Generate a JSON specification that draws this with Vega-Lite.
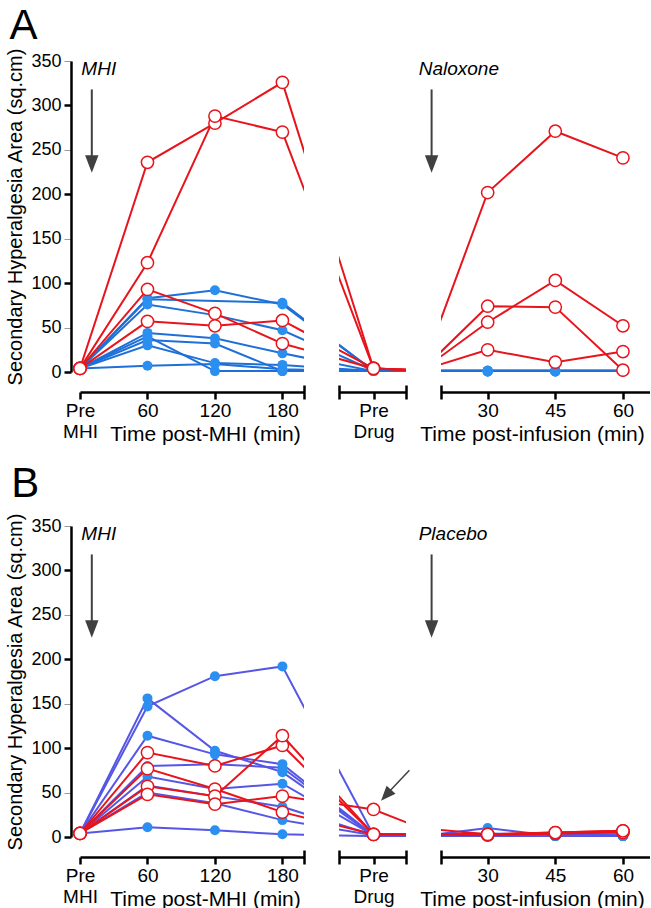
{
"$schema": "https://vega.github.io/schema/vega-lite/v6.json",
"padding": {"left": 5, "top": 4, "right": 0, "bottom": 0},
"bounds": "flush",
"columns": 3,
"spacing": {"row": 154, "column": 35},
"config": {"view": {"stroke": null}, "font": "Liberation Sans", "axis": {"labelFont": "Liberation Sans", "titleFont": "Liberation Sans", "labelColor": "black", "titleColor": "black", "domainColor": "black", "tickColor": "black", "grid": false}, "text": {"font": "Liberation Sans"}},
"datasets": {
"A": [
{"s":"ar1","g":"r","x":0,"v":4},{"s":"ar1","g":"r","x":1,"v":236},{"s":"ar1","g":"r","x":2,"v":280},{"s":"ar1","g":"r","x":3,"v":326},{"s":"ar1","g":"r","x":4.33,"v":4},{"s":"ar1","g":"r","x":5.03,"v":2},{"s":"ar1","g":"r","x":6,"v":202},{"s":"ar1","g":"r","x":7,"v":271},{"s":"ar1","g":"r","x":8,"v":241},
{"s":"ar2","g":"r","x":0,"v":4},{"s":"ar2","g":"r","x":1,"v":123},{"s":"ar2","g":"r","x":2,"v":288},{"s":"ar2","g":"r","x":3,"v":270},{"s":"ar2","g":"r","x":4.33,"v":4},{"s":"ar2","g":"r","x":5.03,"v":2},{"s":"ar2","g":"r","x":6,"v":56},{"s":"ar2","g":"r","x":7,"v":103},{"s":"ar2","g":"r","x":8,"v":52},
{"s":"ar3","g":"r","x":0,"v":4},{"s":"ar3","g":"r","x":1,"v":93},{"s":"ar3","g":"r","x":2,"v":66},{"s":"ar3","g":"r","x":3,"v":32},{"s":"ar3","g":"r","x":4.33,"v":4},{"s":"ar3","g":"r","x":5.03,"v":2},{"s":"ar3","g":"r","x":6,"v":74},{"s":"ar3","g":"r","x":7,"v":73},{"s":"ar3","g":"r","x":8,"v":2},
{"s":"ar4","g":"r","x":0,"v":4},{"s":"ar4","g":"r","x":1,"v":57},{"s":"ar4","g":"r","x":2,"v":52},{"s":"ar4","g":"r","x":3,"v":58},{"s":"ar4","g":"r","x":4.33,"v":4},{"s":"ar4","g":"r","x":5.03,"v":2},{"s":"ar4","g":"r","x":6,"v":25},{"s":"ar4","g":"r","x":7,"v":11},{"s":"ar4","g":"r","x":8,"v":23},
{"s":"ab1","g":"b","x":0,"v":4},{"s":"ab1","g":"b","x":1,"v":83},{"s":"ab1","g":"b","x":2,"v":92},{"s":"ab1","g":"b","x":3,"v":76},{"s":"ab1","g":"b","x":4.33,"v":1.5},{"s":"ab1","g":"b","x":5.03,"v":1.5},{"s":"ab1","g":"b","x":6,"v":1.5},{"s":"ab1","g":"b","x":7,"v":1.5},{"s":"ab1","g":"b","x":8,"v":1.5},
{"s":"ab2","g":"b","x":0,"v":4},{"s":"ab2","g":"b","x":1,"v":82},{"s":"ab2","g":"b","x":3,"v":78},{"s":"ab2","g":"b","x":4.33,"v":1},{"s":"ab2","g":"b","x":5.03,"v":0.7},{"s":"ab2","g":"b","x":6,"v":0.7},{"s":"ab2","g":"b","x":7,"v":0.7},{"s":"ab2","g":"b","x":8,"v":0.7},
{"s":"ab3","g":"b","x":0,"v":4},{"s":"ab3","g":"b","x":1,"v":76},{"s":"ab3","g":"b","x":2,"v":64},{"s":"ab3","g":"b","x":3,"v":47},{"s":"ab3","g":"b","x":4.33,"v":1.5},{"s":"ab3","g":"b","x":5.03,"v":1.5},{"s":"ab3","g":"b","x":6,"v":1.5},{"s":"ab3","g":"b","x":7,"v":1.5},{"s":"ab3","g":"b","x":8,"v":1.5},
{"s":"ab4","g":"b","x":0,"v":4},{"s":"ab4","g":"b","x":1,"v":44},{"s":"ab4","g":"b","x":2,"v":38},{"s":"ab4","g":"b","x":3,"v":21},{"s":"ab4","g":"b","x":4.33,"v":1},{"s":"ab4","g":"b","x":5.03,"v":0.7},{"s":"ab4","g":"b","x":6,"v":0.7},{"s":"ab4","g":"b","x":7,"v":0.7},{"s":"ab4","g":"b","x":8,"v":0.7},
{"s":"ab5","g":"b","x":0,"v":4},{"s":"ab5","g":"b","x":1,"v":40},{"s":"ab5","g":"b","x":2,"v":1},{"s":"ab5","g":"b","x":3,"v":1},{"s":"ab5","g":"b","x":4.33,"v":1},{"s":"ab5","g":"b","x":5.03,"v":1.5},{"s":"ab5","g":"b","x":6,"v":1.5},{"s":"ab5","g":"b","x":7,"v":1.5},{"s":"ab5","g":"b","x":8,"v":1.5},
{"s":"ab6","g":"b","x":0,"v":4},{"s":"ab6","g":"b","x":1,"v":36},{"s":"ab6","g":"b","x":2,"v":32},{"s":"ab6","g":"b","x":3,"v":1},{"s":"ab6","g":"b","x":4.33,"v":1},{"s":"ab6","g":"b","x":5.03,"v":0.7},{"s":"ab6","g":"b","x":6,"v":0.7},{"s":"ab6","g":"b","x":7,"v":0.7},{"s":"ab6","g":"b","x":8,"v":0.7},
{"s":"ab7","g":"b","x":0,"v":4},{"s":"ab7","g":"b","x":1,"v":30},{"s":"ab7","g":"b","x":2,"v":10},{"s":"ab7","g":"b","x":3,"v":8},{"s":"ab7","g":"b","x":4.33,"v":1},{"s":"ab7","g":"b","x":5.03,"v":1.5},{"s":"ab7","g":"b","x":6,"v":1.5},{"s":"ab7","g":"b","x":7,"v":1.5},{"s":"ab7","g":"b","x":8,"v":1.5},
{"s":"ab8","g":"b","x":0,"v":4},{"s":"ab8","g":"b","x":1,"v":7},{"s":"ab8","g":"b","x":2,"v":9},{"s":"ab8","g":"b","x":3,"v":3},{"s":"ab8","g":"b","x":4.33,"v":1},{"s":"ab8","g":"b","x":5.03,"v":0.7},{"s":"ab8","g":"b","x":6,"v":0.7},{"s":"ab8","g":"b","x":7,"v":0.7},{"s":"ab8","g":"b","x":8,"v":0.7}
],
"B": [
{"s":"br1","g":"r","x":0,"v":4},{"s":"br1","g":"r","x":1,"v":95},{"s":"br1","g":"r","x":2,"v":80},{"s":"br1","g":"r","x":3,"v":103},{"s":"br1","g":"r","x":4.33,"v":3},{"s":"br1","g":"r","x":5.03,"v":3},{"s":"br1","g":"r","x":6,"v":3},{"s":"br1","g":"r","x":7,"v":5},{"s":"br1","g":"r","x":8,"v":7},
{"s":"br2","g":"r","x":0,"v":4},{"s":"br2","g":"r","x":1,"v":77},{"s":"br2","g":"r","x":2,"v":54},{"s":"br2","g":"r","x":3,"v":28},{"s":"br2","g":"r","x":4.33,"v":3},{"s":"br2","g":"r","x":5.03,"v":3},{"s":"br2","g":"r","x":6,"v":2},{"s":"br2","g":"r","x":7,"v":4},{"s":"br2","g":"r","x":8,"v":6},
{"s":"br3","g":"r","x":0,"v":4},{"s":"br3","g":"r","x":1,"v":57},{"s":"br3","g":"r","x":2,"v":46},{"s":"br3","g":"r","x":3,"v":114},{"s":"br3","g":"r","x":4.33,"v":3},{"s":"br3","g":"r","x":5.03,"v":3},{"s":"br3","g":"r","x":6,"v":3},{"s":"br3","g":"r","x":7,"v":4},{"s":"br3","g":"r","x":8,"v":5},
{"s":"br4","g":"r","x":0,"v":4},{"s":"br4","g":"r","x":1,"v":48},{"s":"br4","g":"r","x":2,"v":37},{"s":"br4","g":"r","x":3,"v":46},{"s":"br4","g":"r","x":4.33,"v":31},{"s":"br4","g":"r","x":5.03,"v":10},{"s":"br4","g":"r","x":6,"v":3},{"s":"br4","g":"r","x":7,"v":5},{"s":"br4","g":"r","x":8,"v":7},
{"s":"bb1","g":"b","x":0,"v":4},{"s":"bb1","g":"b","x":1,"v":147},{"s":"bb1","g":"b","x":2,"v":181},{"s":"bb1","g":"b","x":3,"v":192},{"s":"bb1","g":"b","x":4.33,"v":2},{"s":"bb1","g":"b","x":5.03,"v":1},{"s":"bb1","g":"b","x":6,"v":4},{"s":"bb1","g":"b","x":7,"v":2},{"s":"bb1","g":"b","x":8,"v":3},
{"s":"bb2","g":"b","x":0,"v":4},{"s":"bb2","g":"b","x":1,"v":156},{"s":"bb2","g":"b","x":2,"v":97},{"s":"bb2","g":"b","x":3,"v":73},{"s":"bb2","g":"b","x":4.33,"v":2},{"s":"bb2","g":"b","x":5.03,"v":1},{"s":"bb2","g":"b","x":6,"v":10},{"s":"bb2","g":"b","x":7,"v":1},{"s":"bb2","g":"b","x":8,"v":1},
{"s":"bb3","g":"b","x":0,"v":4},{"s":"bb3","g":"b","x":1,"v":114},{"s":"bb3","g":"b","x":2,"v":93},{"s":"bb3","g":"b","x":3,"v":82},{"s":"bb3","g":"b","x":4.33,"v":2},{"s":"bb3","g":"b","x":5.03,"v":1},{"s":"bb3","g":"b","x":6,"v":3},{"s":"bb3","g":"b","x":7,"v":1},{"s":"bb3","g":"b","x":8,"v":1},
{"s":"bb4","g":"b","x":0,"v":4},{"s":"bb4","g":"b","x":1,"v":80},{"s":"bb4","g":"b","x":2,"v":82},{"s":"bb4","g":"b","x":3,"v":78},{"s":"bb4","g":"b","x":4.33,"v":2},{"s":"bb4","g":"b","x":5.03,"v":1},{"s":"bb4","g":"b","x":6,"v":2},{"s":"bb4","g":"b","x":7,"v":1},{"s":"bb4","g":"b","x":8,"v":1},
{"s":"bb5","g":"b","x":0,"v":4},{"s":"bb5","g":"b","x":1,"v":68},{"s":"bb5","g":"b","x":2,"v":54},{"s":"bb5","g":"b","x":3,"v":60},{"s":"bb5","g":"b","x":4.33,"v":2},{"s":"bb5","g":"b","x":5.03,"v":1},{"s":"bb5","g":"b","x":6,"v":2},{"s":"bb5","g":"b","x":7,"v":1},{"s":"bb5","g":"b","x":8,"v":1},
{"s":"bb6","g":"b","x":0,"v":4},{"s":"bb6","g":"b","x":1,"v":58},{"s":"bb6","g":"b","x":2,"v":46},{"s":"bb6","g":"b","x":3,"v":34},{"s":"bb6","g":"b","x":4.33,"v":2},{"s":"bb6","g":"b","x":5.03,"v":1},{"s":"bb6","g":"b","x":6,"v":1},{"s":"bb6","g":"b","x":7,"v":1},{"s":"bb6","g":"b","x":8,"v":1},
{"s":"bb7","g":"b","x":0,"v":4},{"s":"bb7","g":"b","x":1,"v":50},{"s":"bb7","g":"b","x":2,"v":38},{"s":"bb7","g":"b","x":3,"v":19},{"s":"bb7","g":"b","x":4.33,"v":2},{"s":"bb7","g":"b","x":5.03,"v":1},{"s":"bb7","g":"b","x":6,"v":1},{"s":"bb7","g":"b","x":7,"v":1},{"s":"bb7","g":"b","x":8,"v":1},
{"s":"bb8","g":"b","x":0,"v":4},{"s":"bb8","g":"b","x":1,"v":11},{"s":"bb8","g":"b","x":2,"v":7.5},{"s":"bb8","g":"b","x":3,"v":3},{"s":"bb8","g":"b","x":4.33,"v":1},{"s":"bb8","g":"b","x":5.03,"v":1},{"s":"bb8","g":"b","x":6,"v":1},{"s":"bb8","g":"b","x":7,"v":1},{"s":"bb8","g":"b","x":8,"v":1}
]
},
"concat": [
{
"width": 224, "height": 311,
"resolve": {"axis": {"x": "independent", "y": "independent"}},
"layer": [
{"data": {"name": "A"}, "transform": [{"filter": "datum.g == 'b'"}], "mark": {"type": "line", "clip": true, "strokeWidth": 2, "color": "#1e70d8"},
"encoding": {"detail": {"field": "s"},
"x": {"field": "x", "type": "quantitative", "scale": {"domain": [0, 3.32], "nice": false, "zero": false}, "axis": {"values": [0,1,2,3], "labelExpr": "datum.value == 0 ? ['Pre','MHI'] : datum.value == 1 ? '60' : datum.value == 2 ? '120' : '180'", "offset": 20, "tickSize": 7, "tickWidth": 2.5, "domainWidth": 2.5, "labelFontSize": 19, "labelPadding": 2, "labelLineHeight": 21, "labelFlush": false, "labelOverlap": false, "title": "Time post-MHI (min)", "titleFontSize": 21, "titleFontWeight": "normal", "titleX": 125, "titleY": 48, "titleBaseline": "alphabetic", "titleAlign": "center"}},
"y": {"field": "v", "type": "quantitative", "scale": {"domain": [0, 350], "nice": false, "zero": false}, "axis": {"values": [0,50,100,150,200,250,300,350], "offset": 9, "domainWidth": 2.5, "tickColor": {"condition": {"test": "datum.value % 100 == 0", "value": "black"}, "value": "#999999"}, "tickWidth": {"condition": {"test": "datum.value % 100 == 0", "value": 2.5}, "value": 1}, "tickSize": 7, "labelFontSize": 18, "labelPadding": 3, "labelFlush": false, "labelOverlap": false, "title": "Secondary Hyperalgesia Area (sq.cm)", "titleFontSize": 20, "titleFontWeight": "normal", "titlePadding": 5}}}},
{"data": {"name": "A"}, "transform": [{"filter": "datum.g == 'b'"}, {"filter": {"field": "x", "range": [0, 3.32]}}], "mark": {"type": "circle", "size": 100, "color": "#2b8ff0", "opacity": 1},
"encoding": {"x": {"field": "x", "type": "quantitative", "scale": {"domain": [0, 3.32], "nice": false, "zero": false}, "axis": null}, "y": {"field": "v", "type": "quantitative", "scale": {"domain": [0, 350], "nice": false, "zero": false}, "axis": null}}},
{"data": {"name": "A"}, "transform": [{"filter": "datum.g == 'r'"}], "mark": {"type": "line", "clip": true, "strokeWidth": 2, "color": "#e8141b"},
"encoding": {"detail": {"field": "s"}, "x": {"field": "x", "type": "quantitative", "scale": {"domain": [0, 3.32], "nice": false, "zero": false}, "axis": null}, "y": {"field": "v", "type": "quantitative", "scale": {"domain": [0, 350], "nice": false, "zero": false}, "axis": null}}},
{"data": {"name": "A"}, "transform": [{"filter": "datum.g == 'r'"}, {"filter": {"field": "x", "range": [0, 3.32]}}], "mark": {"type": "point", "shape": "circle", "size": 150, "filled": true, "fill": "white", "stroke": "#e8141b", "strokeWidth": 1.5, "opacity": 1},
"encoding": {"x": {"field": "x", "type": "quantitative", "scale": {"domain": [0, 3.32], "nice": false, "zero": false}, "axis": null}, "y": {"field": "v", "type": "quantitative", "scale": {"domain": [0, 350], "nice": false, "zero": false}, "axis": null}}},
{"data": {"values": [{}]}, "mark": {"type": "point", "opacity": 0}, "encoding": {"x": {"datum": 1, "type": "quantitative", "scale": {"domain": [0, 3.32], "nice": false, "zero": false}, "axis": {"orient": "bottom", "values": [3.32], "labels": false, "domain": false, "tickSize": 14, "tickWidth": 2.5, "offset": 13, "title": null}}, "y": {"datum": 100, "type": "quantitative", "axis": null}}},
{"data": {"values": [{}]}, "mark": {"type": "text", "text": "MHI", "fontSize": 19, "fontStyle": "italic", "align": "left", "baseline": "alphabetic"}, "encoding": {"x": {"datum": 0.02, "type": "quantitative", "axis": null}, "y": {"datum": 334, "type": "quantitative", "axis": null}}},
{"data": {"values": [{}]}, "mark": {"type": "rule", "strokeWidth": 2, "color": "#404040"}, "encoding": {"x": {"datum": 0.175, "type": "quantitative", "axis": null}, "y": {"datum": 318, "type": "quantitative", "axis": null}, "y2": {"datum": 238}}},
{"data": {"values": [{}]}, "mark": {"type": "point", "shape": "M-1,-1.3L1,-1.3L0,1.3Z", "size": 180, "filled": true, "color": "#404040", "opacity": 1}, "encoding": {"x": {"datum": 0.175, "type": "quantitative", "axis": null}, "y": {"datum": 234, "type": "quantitative", "axis": null}}},
{"data": {"values": [{}]}, "mark": {"type": "text", "text": "A", "fontSize": 42, "align": "left", "baseline": "alphabetic"}, "encoding": {"x": {"datum": -1.046, "type": "quantitative", "axis": null}, "y": {"datum": 375.3, "type": "quantitative", "axis": null}}}
]
},
{
"width": 67, "height": 311,
"resolve": {"axis": {"x": "independent", "y": "independent"}},
"layer": [
{"data": {"name": "A"}, "transform": [{"filter": "datum.g == 'b'"}], "mark": {"type": "line", "clip": true, "strokeWidth": 2, "color": "#1e70d8"},
"encoding": {"detail": {"field": "s"},
"x": {"field": "x", "type": "quantitative", "scale": {"domain": [3.82, 4.81], "nice": false, "zero": false}, "axis": {"values": [4.33], "labelExpr": "['Pre','Drug']", "offset": 20, "tickSize": 7, "tickWidth": 2.5, "domainWidth": 2.5, "labelFontSize": 19, "labelPadding": 2, "labelLineHeight": 21, "labelFlush": false, "labelOverlap": false, "title": null}},
"y": {"field": "v", "type": "quantitative", "scale": {"domain": [0, 350], "nice": false, "zero": false}, "axis": null}}},
{"data": {"name": "A"}, "transform": [{"filter": "datum.g == 'b'"}, {"filter": {"field": "x", "range": [3.82, 4.81]}}], "mark": {"type": "circle", "size": 100, "color": "#2b8ff0", "opacity": 1},
"encoding": {"x": {"field": "x", "type": "quantitative", "scale": {"domain": [3.82, 4.81], "nice": false, "zero": false}, "axis": null}, "y": {"field": "v", "type": "quantitative", "scale": {"domain": [0, 350], "nice": false, "zero": false}, "axis": null}}},
{"data": {"name": "A"}, "transform": [{"filter": "datum.g == 'r'"}], "mark": {"type": "line", "clip": true, "strokeWidth": 2, "color": "#e8141b"},
"encoding": {"detail": {"field": "s"}, "x": {"field": "x", "type": "quantitative", "scale": {"domain": [3.82, 4.81], "nice": false, "zero": false}, "axis": null}, "y": {"field": "v", "type": "quantitative", "scale": {"domain": [0, 350], "nice": false, "zero": false}, "axis": null}}},
{"data": {"name": "A"}, "transform": [{"filter": "datum.g == 'r'"}, {"filter": {"field": "x", "range": [3.82, 4.81]}}], "mark": {"type": "point", "shape": "circle", "size": 150, "filled": true, "fill": "white", "stroke": "#e8141b", "strokeWidth": 1.5, "opacity": 1},
"encoding": {"x": {"field": "x", "type": "quantitative", "scale": {"domain": [3.82, 4.81], "nice": false, "zero": false}, "axis": null}, "y": {"field": "v", "type": "quantitative", "scale": {"domain": [0, 350], "nice": false, "zero": false}, "axis": null}}},
{"data": {"values": [{}]}, "mark": {"type": "point", "opacity": 0}, "encoding": {"x": {"datum": 4.33, "type": "quantitative", "scale": {"domain": [3.82, 4.81], "nice": false, "zero": false}, "axis": {"orient": "bottom", "values": [3.82, 4.81], "labels": false, "domain": false, "tickSize": 14, "tickWidth": 2.5, "offset": 13, "title": null}}, "y": {"datum": 100, "type": "quantitative", "axis": null}}}
]
},
{
"width": 209, "height": 311,
"resolve": {"axis": {"x": "independent", "y": "independent"}},
"layer": [
{"data": {"name": "A"}, "transform": [{"filter": "datum.g == 'b'"}], "mark": {"type": "line", "clip": true, "strokeWidth": 2, "color": "#1e70d8"},
"encoding": {"detail": {"field": "s"},
"x": {"field": "x", "type": "quantitative", "scale": {"domain": [5.31, 8.4], "nice": false, "zero": false}, "axis": {"values": [6,7,8], "labelExpr": "datum.value == 6 ? '30' : datum.value == 7 ? '45' : '60'", "offset": 20, "tickSize": 7, "tickWidth": 2.5, "domainWidth": 2.5, "labelFontSize": 19, "labelPadding": 2, "labelFlush": false, "labelOverlap": false, "title": "Time post-infusion (min)", "titleFontSize": 21, "titleFontWeight": "normal", "titleX": 91, "titleY": 48, "titleBaseline": "alphabetic", "titleAlign": "center"}},
"y": {"field": "v", "type": "quantitative", "scale": {"domain": [0, 350], "nice": false, "zero": false}, "axis": null}}},
{"data": {"name": "A"}, "transform": [{"filter": "datum.g == 'b'"}, {"filter": {"field": "x", "range": [5.31, 8.4]}}], "mark": {"type": "circle", "size": 100, "color": "#2b8ff0", "opacity": 1},
"encoding": {"x": {"field": "x", "type": "quantitative", "scale": {"domain": [5.31, 8.4], "nice": false, "zero": false}, "axis": null}, "y": {"field": "v", "type": "quantitative", "scale": {"domain": [0, 350], "nice": false, "zero": false}, "axis": null}}},
{"data": {"name": "A"}, "transform": [{"filter": "datum.g == 'r'"}], "mark": {"type": "line", "clip": true, "strokeWidth": 2, "color": "#e8141b"},
"encoding": {"detail": {"field": "s"}, "x": {"field": "x", "type": "quantitative", "scale": {"domain": [5.31, 8.4], "nice": false, "zero": false}, "axis": null}, "y": {"field": "v", "type": "quantitative", "scale": {"domain": [0, 350], "nice": false, "zero": false}, "axis": null}}},
{"data": {"name": "A"}, "transform": [{"filter": "datum.g == 'r'"}, {"filter": {"field": "x", "range": [5.31, 8.4]}}], "mark": {"type": "point", "shape": "circle", "size": 150, "filled": true, "fill": "white", "stroke": "#e8141b", "strokeWidth": 1.5, "opacity": 1},
"encoding": {"x": {"field": "x", "type": "quantitative", "scale": {"domain": [5.31, 8.4], "nice": false, "zero": false}, "axis": null}, "y": {"field": "v", "type": "quantitative", "scale": {"domain": [0, 350], "nice": false, "zero": false}, "axis": null}}},
{"data": {"values": [{}]}, "mark": {"type": "point", "opacity": 0}, "encoding": {"x": {"datum": 6, "type": "quantitative", "scale": {"domain": [5.31, 8.4], "nice": false, "zero": false}, "axis": {"orient": "bottom", "values": [5.31], "labels": false, "domain": false, "tickSize": 14, "tickWidth": 2.5, "offset": 13, "title": null}}, "y": {"datum": 100, "type": "quantitative", "axis": null}}},
{"data": {"values": [{}]}, "mark": {"type": "text", "text": "Naloxone", "fontSize": 19, "fontStyle": "italic", "align": "left", "baseline": "alphabetic"}, "encoding": {"x": {"datum": 4.98, "type": "quantitative", "axis": null}, "y": {"datum": 334, "type": "quantitative", "axis": null}}},
{"data": {"values": [{}]}, "mark": {"type": "rule", "strokeWidth": 2, "color": "#404040"}, "encoding": {"x": {"datum": 5.171, "type": "quantitative", "axis": null}, "y": {"datum": 318, "type": "quantitative", "axis": null}, "y2": {"datum": 238}}},
{"data": {"values": [{}]}, "mark": {"type": "point", "shape": "M-1,-1.3L1,-1.3L0,1.3Z", "size": 180, "filled": true, "color": "#404040", "opacity": 1}, "encoding": {"x": {"datum": 5.171, "type": "quantitative", "axis": null}, "y": {"datum": 234, "type": "quantitative", "axis": null}}}
]
},
{
"width": 224, "height": 311,
"resolve": {"axis": {"x": "independent", "y": "independent"}},
"layer": [
{"data": {"name": "B"}, "transform": [{"filter": "datum.g == 'b'"}], "mark": {"type": "line", "clip": true, "strokeWidth": 2, "color": "#5656e6"},
"encoding": {"detail": {"field": "s"},
"x": {"field": "x", "type": "quantitative", "scale": {"domain": [0, 3.32], "nice": false, "zero": false}, "axis": {"values": [0,1,2,3], "labelExpr": "datum.value == 0 ? ['Pre','MHI'] : datum.value == 1 ? '60' : datum.value == 2 ? '120' : '180'", "offset": 20, "tickSize": 7, "tickWidth": 2.5, "domainWidth": 2.5, "labelFontSize": 19, "labelPadding": 2, "labelLineHeight": 21, "labelFlush": false, "labelOverlap": false, "title": "Time post-MHI (min)", "titleFontSize": 21, "titleFontWeight": "normal", "titleX": 125, "titleY": 48, "titleBaseline": "alphabetic", "titleAlign": "center"}},
"y": {"field": "v", "type": "quantitative", "scale": {"domain": [0, 350], "nice": false, "zero": false}, "axis": {"values": [0,50,100,150,200,250,300,350], "offset": 9, "domainWidth": 2.5, "tickColor": {"condition": {"test": "datum.value % 100 == 0", "value": "black"}, "value": "#999999"}, "tickWidth": {"condition": {"test": "datum.value % 100 == 0", "value": 2.5}, "value": 1}, "tickSize": 7, "labelFontSize": 18, "labelPadding": 3, "labelFlush": false, "labelOverlap": false, "title": "Secondary Hyperalgesia Area (sq.cm)", "titleFontSize": 20, "titleFontWeight": "normal", "titlePadding": 5}}}},
{"data": {"name": "B"}, "transform": [{"filter": "datum.g == 'b'"}, {"filter": {"field": "x", "range": [0, 3.32]}}], "mark": {"type": "circle", "size": 100, "color": "#2b8ff0", "opacity": 1},
"encoding": {"x": {"field": "x", "type": "quantitative", "scale": {"domain": [0, 3.32], "nice": false, "zero": false}, "axis": null}, "y": {"field": "v", "type": "quantitative", "scale": {"domain": [0, 350], "nice": false, "zero": false}, "axis": null}}},
{"data": {"name": "B"}, "transform": [{"filter": "datum.g == 'r'"}], "mark": {"type": "line", "clip": true, "strokeWidth": 2, "color": "#e8141b"},
"encoding": {"detail": {"field": "s"}, "x": {"field": "x", "type": "quantitative", "scale": {"domain": [0, 3.32], "nice": false, "zero": false}, "axis": null}, "y": {"field": "v", "type": "quantitative", "scale": {"domain": [0, 350], "nice": false, "zero": false}, "axis": null}}},
{"data": {"name": "B"}, "transform": [{"filter": "datum.g == 'r'"}, {"filter": {"field": "x", "range": [0, 3.32]}}], "mark": {"type": "point", "shape": "circle", "size": 150, "filled": true, "fill": "white", "stroke": "#e8141b", "strokeWidth": 1.5, "opacity": 1},
"encoding": {"x": {"field": "x", "type": "quantitative", "scale": {"domain": [0, 3.32], "nice": false, "zero": false}, "axis": null}, "y": {"field": "v", "type": "quantitative", "scale": {"domain": [0, 350], "nice": false, "zero": false}, "axis": null}}},
{"data": {"values": [{}]}, "mark": {"type": "point", "opacity": 0}, "encoding": {"x": {"datum": 1, "type": "quantitative", "scale": {"domain": [0, 3.32], "nice": false, "zero": false}, "axis": {"orient": "bottom", "values": [3.32], "labels": false, "domain": false, "tickSize": 14, "tickWidth": 2.5, "offset": 13, "title": null}}, "y": {"datum": 100, "type": "quantitative", "axis": null}}},
{"data": {"values": [{}]}, "mark": {"type": "text", "text": "MHI", "fontSize": 19, "fontStyle": "italic", "align": "left", "baseline": "alphabetic"}, "encoding": {"x": {"datum": 0.02, "type": "quantitative", "axis": null}, "y": {"datum": 334, "type": "quantitative", "axis": null}}},
{"data": {"values": [{}]}, "mark": {"type": "rule", "strokeWidth": 2, "color": "#404040"}, "encoding": {"x": {"datum": 0.175, "type": "quantitative", "axis": null}, "y": {"datum": 318, "type": "quantitative", "axis": null}, "y2": {"datum": 238}}},
{"data": {"values": [{}]}, "mark": {"type": "point", "shape": "M-1,-1.3L1,-1.3L0,1.3Z", "size": 180, "filled": true, "color": "#404040", "opacity": 1}, "encoding": {"x": {"datum": 0.175, "type": "quantitative", "axis": null}, "y": {"datum": 234, "type": "quantitative", "axis": null}}},
{"data": {"values": [{}]}, "mark": {"type": "text", "text": "B", "fontSize": 42, "align": "left", "baseline": "alphabetic"}, "encoding": {"x": {"datum": -1.02, "type": "quantitative", "axis": null}, "y": {"datum": 383, "type": "quantitative", "axis": null}}}
]
},
{
"width": 67, "height": 311,
"resolve": {"axis": {"x": "independent", "y": "independent"}},
"layer": [
{"data": {"name": "B"}, "transform": [{"filter": "datum.g == 'b'"}], "mark": {"type": "line", "clip": true, "strokeWidth": 2, "color": "#5656e6"},
"encoding": {"detail": {"field": "s"},
"x": {"field": "x", "type": "quantitative", "scale": {"domain": [3.82, 4.81], "nice": false, "zero": false}, "axis": {"values": [4.33], "labelExpr": "['Pre','Drug']", "offset": 20, "tickSize": 7, "tickWidth": 2.5, "domainWidth": 2.5, "labelFontSize": 19, "labelPadding": 2, "labelLineHeight": 21, "labelFlush": false, "labelOverlap": false, "title": null}},
"y": {"field": "v", "type": "quantitative", "scale": {"domain": [0, 350], "nice": false, "zero": false}, "axis": null}}},
{"data": {"name": "B"}, "transform": [{"filter": "datum.g == 'b'"}, {"filter": {"field": "x", "range": [3.82, 4.81]}}], "mark": {"type": "circle", "size": 100, "color": "#2b8ff0", "opacity": 1},
"encoding": {"x": {"field": "x", "type": "quantitative", "scale": {"domain": [3.82, 4.81], "nice": false, "zero": false}, "axis": null}, "y": {"field": "v", "type": "quantitative", "scale": {"domain": [0, 350], "nice": false, "zero": false}, "axis": null}}},
{"data": {"name": "B"}, "transform": [{"filter": "datum.g == 'r'"}], "mark": {"type": "line", "clip": true, "strokeWidth": 2, "color": "#e8141b"},
"encoding": {"detail": {"field": "s"}, "x": {"field": "x", "type": "quantitative", "scale": {"domain": [3.82, 4.81], "nice": false, "zero": false}, "axis": null}, "y": {"field": "v", "type": "quantitative", "scale": {"domain": [0, 350], "nice": false, "zero": false}, "axis": null}}},
{"data": {"name": "B"}, "transform": [{"filter": "datum.g == 'r'"}, {"filter": {"field": "x", "range": [3.82, 4.81]}}], "mark": {"type": "point", "shape": "circle", "size": 150, "filled": true, "fill": "white", "stroke": "#e8141b", "strokeWidth": 1.5, "opacity": 1},
"encoding": {"x": {"field": "x", "type": "quantitative", "scale": {"domain": [3.82, 4.81], "nice": false, "zero": false}, "axis": null}, "y": {"field": "v", "type": "quantitative", "scale": {"domain": [0, 350], "nice": false, "zero": false}, "axis": null}}},
{"data": {"values": [{}]}, "mark": {"type": "point", "opacity": 0}, "encoding": {"x": {"datum": 4.33, "type": "quantitative", "scale": {"domain": [3.82, 4.81], "nice": false, "zero": false}, "axis": {"orient": "bottom", "values": [3.82, 4.81], "labels": false, "domain": false, "tickSize": 14, "tickWidth": 2.5, "offset": 13, "title": null}}, "y": {"datum": 100, "type": "quantitative", "axis": null}}},
{"data": {"values": [{}]}, "mark": {"type": "rule", "strokeWidth": 1.5, "color": "#404040"}, "encoding": {"x": {"datum": 4.86, "type": "quantitative", "axis": null}, "y": {"datum": 75, "type": "quantitative", "axis": null}, "x2": {"datum": 4.56}, "y2": {"datum": 51}}},
{"data": {"values": [{}]}, "mark": {"type": "point", "shape": "M-1,-1.25L1,-1.25L0,1.25Z", "size": 144, "angle": 42, "filled": true, "color": "#404040", "opacity": 1}, "encoding": {"x": {"datum": 4.515, "type": "quantitative", "axis": null}, "y": {"datum": 47, "type": "quantitative", "axis": null}}}
]
},
{
"width": 209, "height": 311,
"resolve": {"axis": {"x": "independent", "y": "independent"}},
"layer": [
{"data": {"name": "B"}, "transform": [{"filter": "datum.g == 'b'"}], "mark": {"type": "line", "clip": true, "strokeWidth": 2, "color": "#5656e6"},
"encoding": {"detail": {"field": "s"},
"x": {"field": "x", "type": "quantitative", "scale": {"domain": [5.31, 8.4], "nice": false, "zero": false}, "axis": {"values": [6,7,8], "labelExpr": "datum.value == 6 ? '30' : datum.value == 7 ? '45' : '60'", "offset": 20, "tickSize": 7, "tickWidth": 2.5, "domainWidth": 2.5, "labelFontSize": 19, "labelPadding": 2, "labelFlush": false, "labelOverlap": false, "title": "Time post-infusion (min)", "titleFontSize": 21, "titleFontWeight": "normal", "titleX": 91, "titleY": 48, "titleBaseline": "alphabetic", "titleAlign": "center"}},
"y": {"field": "v", "type": "quantitative", "scale": {"domain": [0, 350], "nice": false, "zero": false}, "axis": null}}},
{"data": {"name": "B"}, "transform": [{"filter": "datum.g == 'b'"}, {"filter": {"field": "x", "range": [5.31, 8.4]}}], "mark": {"type": "circle", "size": 100, "color": "#2b8ff0", "opacity": 1},
"encoding": {"x": {"field": "x", "type": "quantitative", "scale": {"domain": [5.31, 8.4], "nice": false, "zero": false}, "axis": null}, "y": {"field": "v", "type": "quantitative", "scale": {"domain": [0, 350], "nice": false, "zero": false}, "axis": null}}},
{"data": {"name": "B"}, "transform": [{"filter": "datum.g == 'r'"}], "mark": {"type": "line", "clip": true, "strokeWidth": 2, "color": "#e8141b"},
"encoding": {"detail": {"field": "s"}, "x": {"field": "x", "type": "quantitative", "scale": {"domain": [5.31, 8.4], "nice": false, "zero": false}, "axis": null}, "y": {"field": "v", "type": "quantitative", "scale": {"domain": [0, 350], "nice": false, "zero": false}, "axis": null}}},
{"data": {"name": "B"}, "transform": [{"filter": "datum.g == 'r'"}, {"filter": {"field": "x", "range": [5.31, 8.4]}}], "mark": {"type": "point", "shape": "circle", "size": 150, "filled": true, "fill": "white", "stroke": "#e8141b", "strokeWidth": 1.5, "opacity": 1},
"encoding": {"x": {"field": "x", "type": "quantitative", "scale": {"domain": [5.31, 8.4], "nice": false, "zero": false}, "axis": null}, "y": {"field": "v", "type": "quantitative", "scale": {"domain": [0, 350], "nice": false, "zero": false}, "axis": null}}},
{"data": {"values": [{}]}, "mark": {"type": "point", "opacity": 0}, "encoding": {"x": {"datum": 6, "type": "quantitative", "scale": {"domain": [5.31, 8.4], "nice": false, "zero": false}, "axis": {"orient": "bottom", "values": [5.31], "labels": false, "domain": false, "tickSize": 14, "tickWidth": 2.5, "offset": 13, "title": null}}, "y": {"datum": 100, "type": "quantitative", "axis": null}}},
{"data": {"values": [{}]}, "mark": {"type": "text", "text": "Placebo", "fontSize": 19, "fontStyle": "italic", "align": "left", "baseline": "alphabetic"}, "encoding": {"x": {"datum": 4.98, "type": "quantitative", "axis": null}, "y": {"datum": 334, "type": "quantitative", "axis": null}}},
{"data": {"values": [{}]}, "mark": {"type": "rule", "strokeWidth": 2, "color": "#404040"}, "encoding": {"x": {"datum": 5.171, "type": "quantitative", "axis": null}, "y": {"datum": 318, "type": "quantitative", "axis": null}, "y2": {"datum": 238}}},
{"data": {"values": [{}]}, "mark": {"type": "point", "shape": "M-1,-1.3L1,-1.3L0,1.3Z", "size": 180, "filled": true, "color": "#404040", "opacity": 1}, "encoding": {"x": {"datum": 5.171, "type": "quantitative", "axis": null}, "y": {"datum": 234, "type": "quantitative", "axis": null}}}
]
}
]
}
